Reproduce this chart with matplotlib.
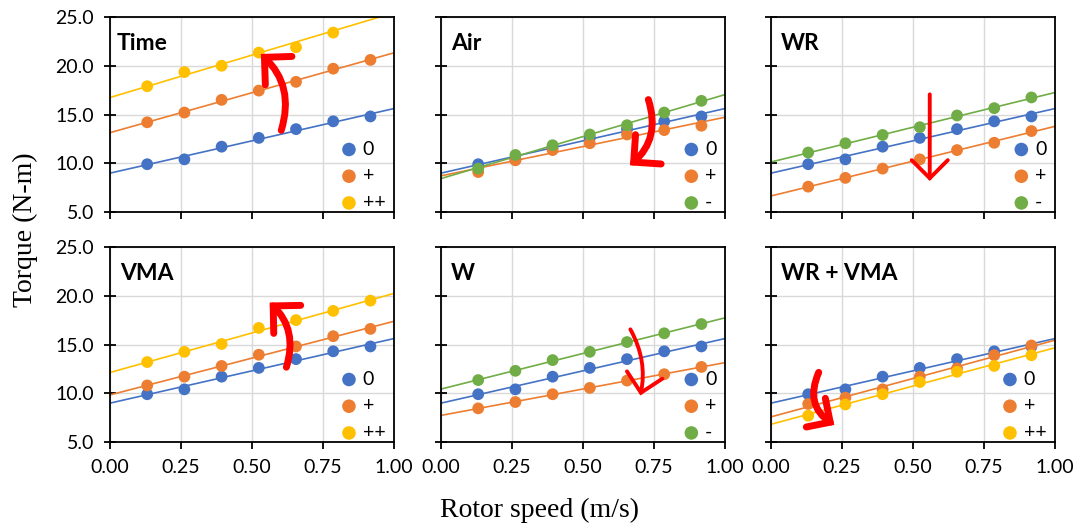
import numpy as np
import matplotlib
matplotlib.use("Agg")
import matplotlib.pyplot as plt
from matplotlib.patches import FancyArrowPatch

plt.rcParams['font.family'] = ['Lato', 'DejaVu Sans']

# Rotor speed sample points (m/s)
speed = [0.131, 0.262, 0.393, 0.524, 0.655, 0.786, 0.917]

# Baseline torque (N-m), shared by every panel
base = [9.9, 10.4, 11.7, 12.6, 13.5, 14.3, 14.8]

# Time
time_plus = [14.2, 15.2, 16.5, 17.45, 18.35, 19.7, 20.6]
time_pp = [17.9, 19.35, 20.0, 21.35, 21.9, 23.4, 25.2]

# Air
air_plus = [9.1, 10.3, 11.35, 12.05, 12.95, 13.4, 13.85]
air_minus = [9.45, 10.85, 11.85, 12.95, 13.9, 15.2, 16.4]

# WR
wr_plus = [7.6, 8.5, 9.45, 10.4, 11.35, 12.1, 13.3]
wr_minus = [11.1, 12.05, 12.9, 13.7, 14.9, 15.65, 16.75]

# VMA
vma_plus = [10.8, 11.7, 12.8, 13.95, 14.8, 15.85, 16.6]
vma_pp = [13.2, 14.25, 15.05, 16.7, 17.5, 18.45, 19.5]

# W
w_plus = [8.45, 9.1, 9.9, 10.55, 11.3, 11.95, 12.7]
w_minus = [11.35, 12.3, 13.4, 14.25, 15.25, 16.15, 17.1]

# WR + VMA
wrvma_plus = [8.9, 9.55, 10.4, 11.7, 12.55, 13.9, 14.9]
wrvma_pp = [7.7, 8.85, 9.9, 11.15, 12.2, 12.8, 13.9]

titles = ["Time", "Air", "WR", "VMA", "W", "WR + VMA"]

BLUE, ORANGE, YELLOW, GREEN = "#4472C4", "#ED7D31", "#FFC000", "#70AD47"

panels = [
    [("0", base, BLUE), ("+", time_plus, ORANGE), ("++", time_pp, YELLOW)],
    [("0", base, BLUE), ("+", air_plus, ORANGE), ("-", air_minus, GREEN)],
    [("0", base, BLUE), ("+", wr_plus, ORANGE), ("-", wr_minus, GREEN)],
    [("0", base, BLUE), ("+", vma_plus, ORANGE), ("++", vma_pp, YELLOW)],
    [("0", base, BLUE), ("+", w_plus, ORANGE), ("-", w_minus, GREEN)],
    [("0", base, BLUE), ("+", wrvma_plus, ORANGE), ("++", wrvma_pp, YELLOW)],
]

# Red annotation arrows: tail, head, curvature, line width, head size
arrows = [
    ((0.600, 13.1), (0.524, 21.4), 0.33, 5.0, 0.70),
    ((0.727, 16.8), (0.658, 9.6), -0.35, 5.0, 0.70),
    ((0.559, 17.35), (0.559, 7.9), 0.0, 2.8, 0.65),
    ((0.618, 12.4), (0.555, 19.5), 0.33, 5.0, 0.70),
    ((0.662, 16.8), (0.700, 9.5), -0.2, 2.8, 0.65),
    ((0.172, 12.4), (0.231, 6.6), 0.45, 5.0, 0.62),
]

YMIN, YMAX = 5, 25

fig = plt.figure(figsize=(10.8, 5.24), dpi=100)
lefts = [110 / 1080, 441 / 1080, 771 / 1080]
bottoms = [1 - 212 / 524, 1 - 442 / 524]
w, h = 284 / 1080, 195 / 524

xfit = np.array([0.0, 1.0])
for i, (series, title, arr) in enumerate(zip(panels, titles, arrows)):
    r, c = divmod(i, 3)
    ax = fig.add_axes([lefts[c], bottoms[r], w, h])
    ax.set_xlim(0, 1)
    ax.set_ylim(YMIN, YMAX)
    ax.set_xticks([0, 0.25, 0.5, 0.75, 1.0])
    ax.set_yticks([5, 10, 15, 20, 25])
    ax.grid(True, color="#D9D9D9", lw=1.0)
    ax.set_axisbelow(True)
    for s in ax.spines.values():
        s.set_color("black")
        s.set_linewidth(1.3)
    ax.tick_params(axis="y", direction="inout", length=9, width=1.3,
                   labelsize=14, pad=7)
    ax.tick_params(axis="x", direction="out", length=5, width=1.3,
                   labelsize=14, pad=7)
    if c == 0:
        ax.set_yticklabels([f"{v:.1f}" for v in ax.get_yticks()])
    else:
        ax.set_yticklabels([])
    if r == 1:
        ax.set_xticklabels([f"{v:.2f}" for v in ax.get_xticks()])
    else:
        ax.set_xticklabels([])

    for lab, vals, col in series:
        xs = np.array(speed[:len(vals)])
        ys = np.array(vals)
        k, b = np.polyfit(xs, ys, 1)
        ax.plot(xfit, k * xfit + b, color=col, lw=1.2, zorder=2)
        # points beyond the axis range are not shown
        keep = (ys >= YMIN) & (ys <= YMAX)
        ax.scatter(xs[keep], ys[keep], s=72, color=col, label=lab, zorder=3,
                   edgecolors="none")

    ax.text(0.035 if i else 0.025, 0.865, title, transform=ax.transAxes,
            fontsize=16.5, fontweight="bold", va="center", ha="left")

    ax.legend(loc="lower right", bbox_to_anchor=(0.99, -0.025),
              frameon=False, fontsize=14, handletextpad=0.15,
              handlelength=1.1, labelspacing=0.5, borderpad=0.3,
              borderaxespad=0.0, markerscale=1.15)

    (tx, ty), (hx, hy), rad, lw, hs = arr
    ap = FancyArrowPatch((tx, ty), (hx, hy),
                         connectionstyle=f"arc3,rad={rad}",
                         arrowstyle=f"->,head_length={hs},head_width={hs}",
                         mutation_scale=20,
                         color="#FF0000", lw=lw, capstyle="round",
                         joinstyle="miter", zorder=5, clip_on=False)
    ax.add_patch(ap)

fig.text(25 / 1080, 1 - 230 / 524, "Torque (N-m)", rotation=90,
         ha="center", va="center", fontsize=20, family="Liberation Serif")
fig.text(540 / 1080, 1 - 510 / 524, "Rotor speed (m/s)",
         ha="center", va="center", fontsize=20, family="Liberation Serif")

fig.savefig("out.png", dpi=100, facecolor="white")
